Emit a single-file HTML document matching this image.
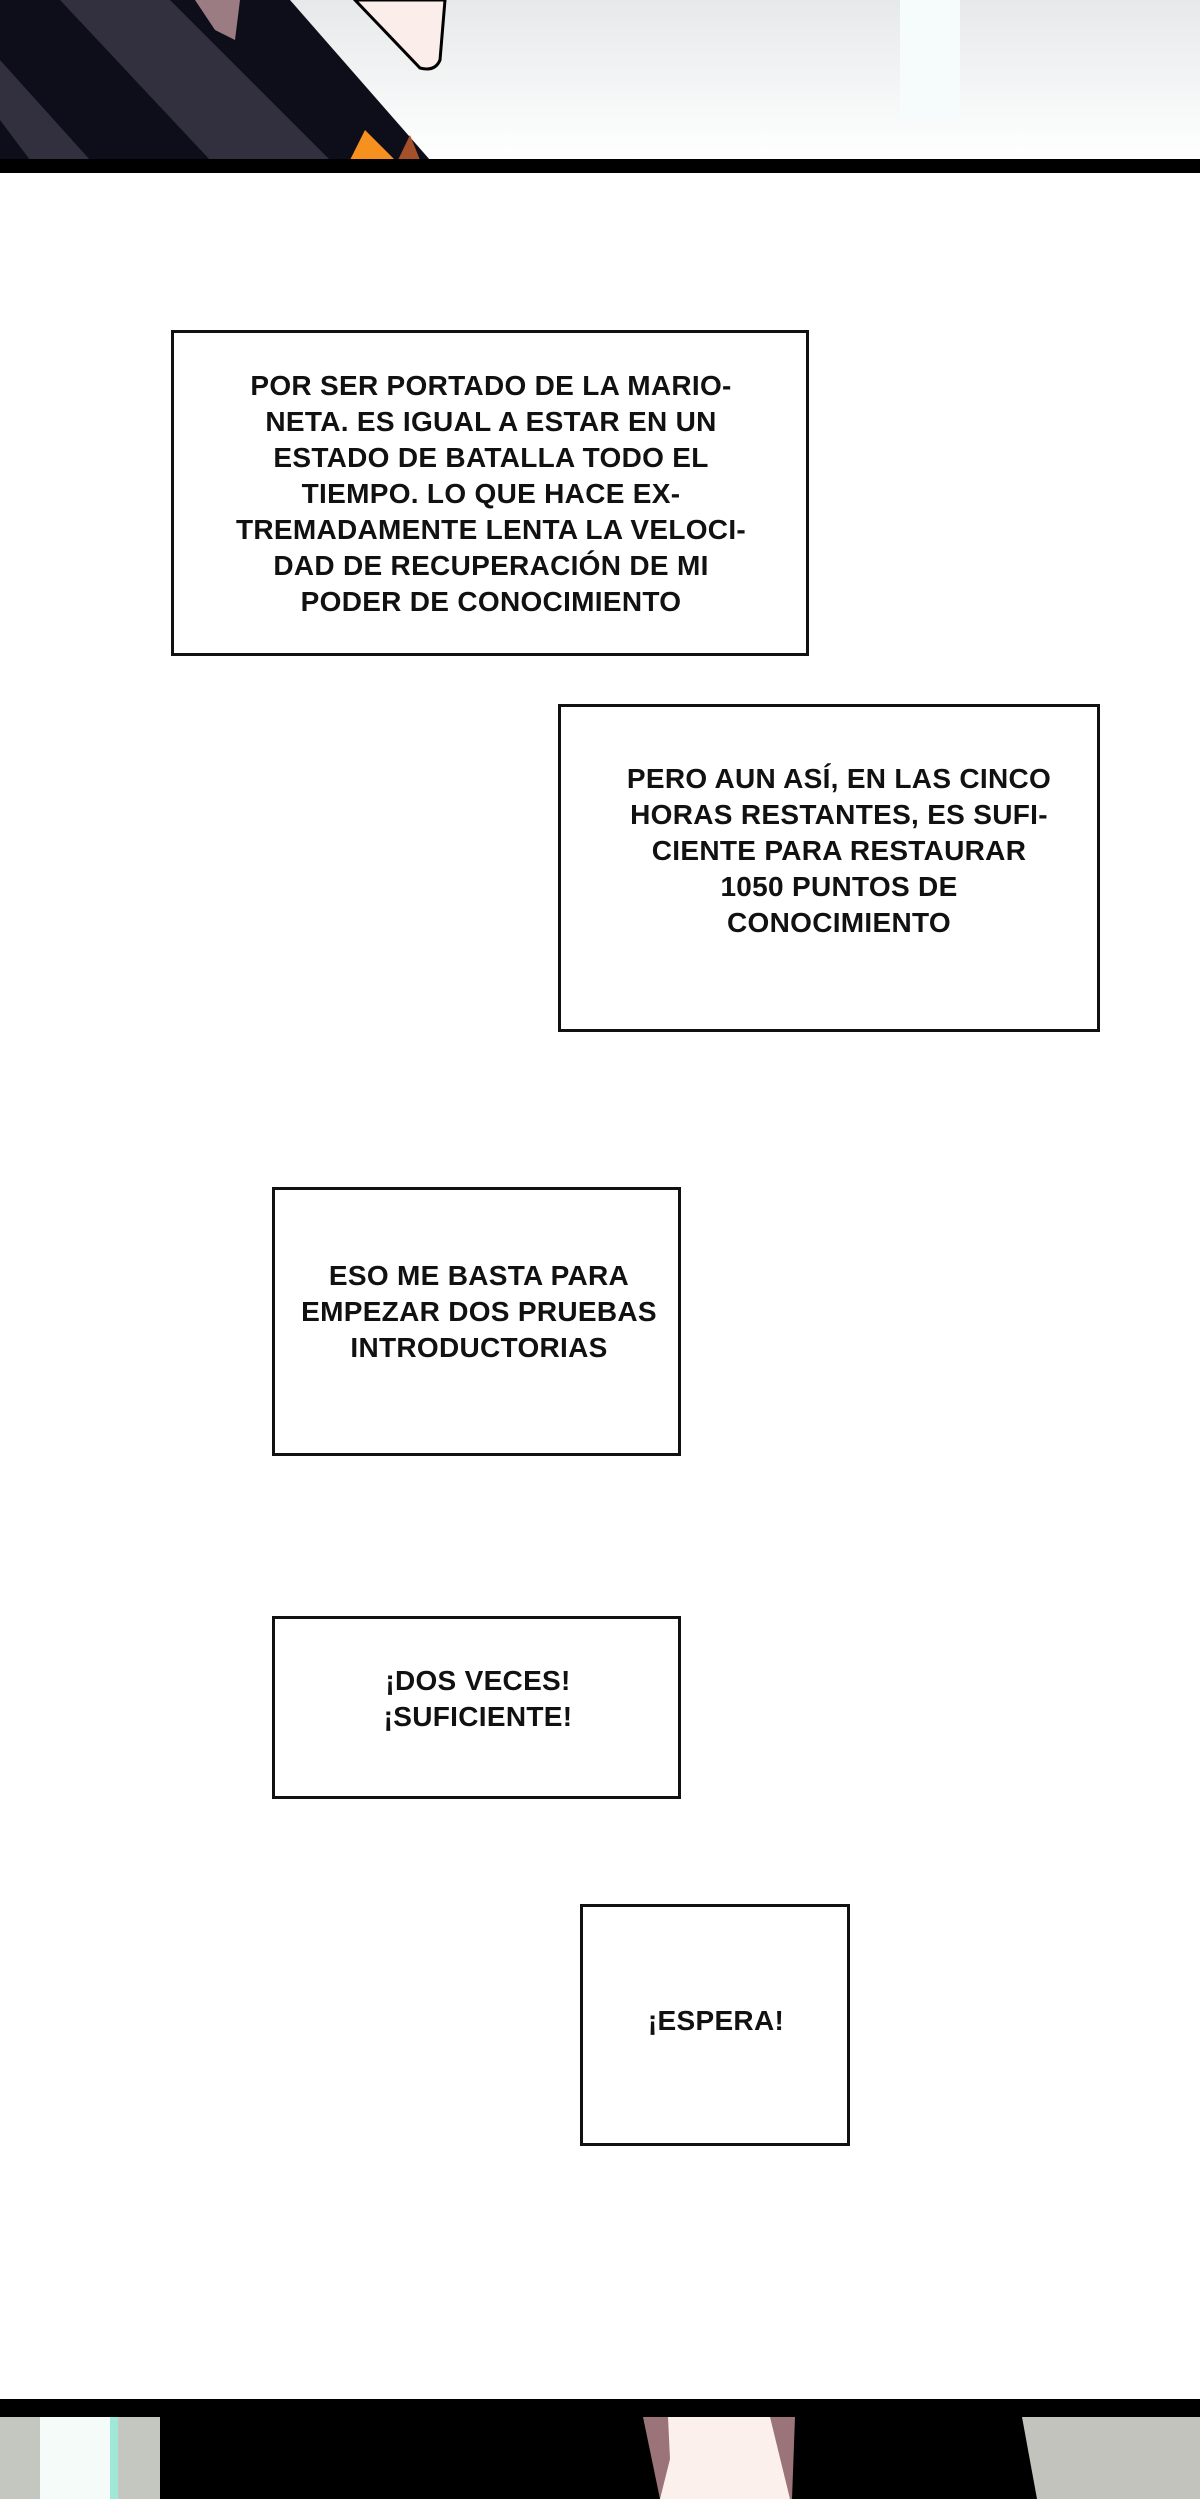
<!DOCTYPE html>
<html><head><meta charset="utf-8"><style>
html,body{margin:0;padding:0;}
body{width:1200px;height:2499px;position:relative;background:#fff;overflow:hidden;font-family:"Liberation Sans",sans-serif;}
.box{position:absolute;border:3px solid #111;box-sizing:border-box;background:#fff;}
.t{position:absolute;text-align:center;font-size:28px;font-weight:bold;line-height:36px;color:#111;white-space:nowrap;transform:translateX(-50%);letter-spacing:0.3px;}
</style></head><body>
<svg style="position:absolute;left:0;top:0" width="1200" height="175">
<defs><linearGradient id="g" x1="0" y1="0" x2="0" y2="1"><stop offset="0" stop-color="#e6e9ea"/><stop offset="1" stop-color="#ffffff"/></linearGradient></defs>
<rect width="1200" height="160" fill="url(#g)"/>
<rect x="900" y="0" width="60" height="120" fill="#f6fbfb"/>
<polygon points="0,0 290,0 430,160 0,160" fill="#0e0d1a"/>
<polygon points="60,0 170,0 330,160 210,160" fill="#32303f"/>
<polygon points="0,60 90,160 30,160 0,120" fill="#32303f"/>
<polygon points="195,0 240,0 235,40 215,30" fill="#9b7c82"/>
<path d="M355,0 L445,0 L440,60 Q435,72 420,68 Z" fill="#fbeeea" stroke="#000" stroke-width="3"/>
<polygon points="350,160 365,130 395,160" fill="#f6901e"/>
<polygon points="398,160 410,135 420,160" fill="#a4502a"/>
<rect x="0" y="159" width="1200" height="14" fill="#000"/>
</svg>

<div class="box" style="left:171px;top:330px;width:638px;height:326px"></div>
<div class="t" style="left:491px;top:368px">POR SER PORTADO DE LA MARIO-<br>NETA. ES IGUAL A ESTAR EN UN<br>ESTADO DE BATALLA TODO EL<br>TIEMPO. LO QUE HACE EX-<br>TREMADAMENTE LENTA LA VELOCI-<br>DAD DE RECUPERACIÓN DE MI<br>PODER DE CONOCIMIENTO</div>

<div class="box" style="left:558px;top:704px;width:542px;height:328px"></div>
<div class="t" style="left:839px;top:761px">PERO AUN ASÍ, EN LAS CINCO<br>HORAS RESTANTES, ES SUFI-<br>CIENTE PARA RESTAURAR<br>1050 PUNTOS DE<br>CONOCIMIENTO</div>

<div class="box" style="left:272px;top:1187px;width:409px;height:269px"></div>
<div class="t" style="left:479px;top:1258px">ESO ME BASTA PARA<br>EMPEZAR DOS PRUEBAS<br>INTRODUCTORIAS</div>

<div class="box" style="left:272px;top:1616px;width:409px;height:183px"></div>
<div class="t" style="left:478px;top:1663px">¡DOS VECES!<br>¡SUFICIENTE!</div>

<div class="box" style="left:580px;top:1904px;width:270px;height:242px"></div>
<div class="t" style="left:716px;top:2003px">¡ESPERA!</div>

<svg style="position:absolute;left:0;top:2399px" width="1200" height="100">
<rect width="1200" height="100" fill="#000"/>
<rect x="0" y="18" width="160" height="82" fill="#c4c6c0"/>
<rect x="40" y="18" width="70" height="82" fill="#f4fbf8"/>
<rect x="110" y="18" width="8" height="82" fill="#9fe8d8"/>
<polygon points="1022,18 1200,18 1200,100 1037,100" fill="#c2c3bc"/>
<polygon points="643,18 795,18 792,100 660,100" fill="#9a7479"/>
<polygon points="668,18 770,18 790,100 660,100 670,60" fill="#fcf0ec"/>
</svg>
</body></html>
